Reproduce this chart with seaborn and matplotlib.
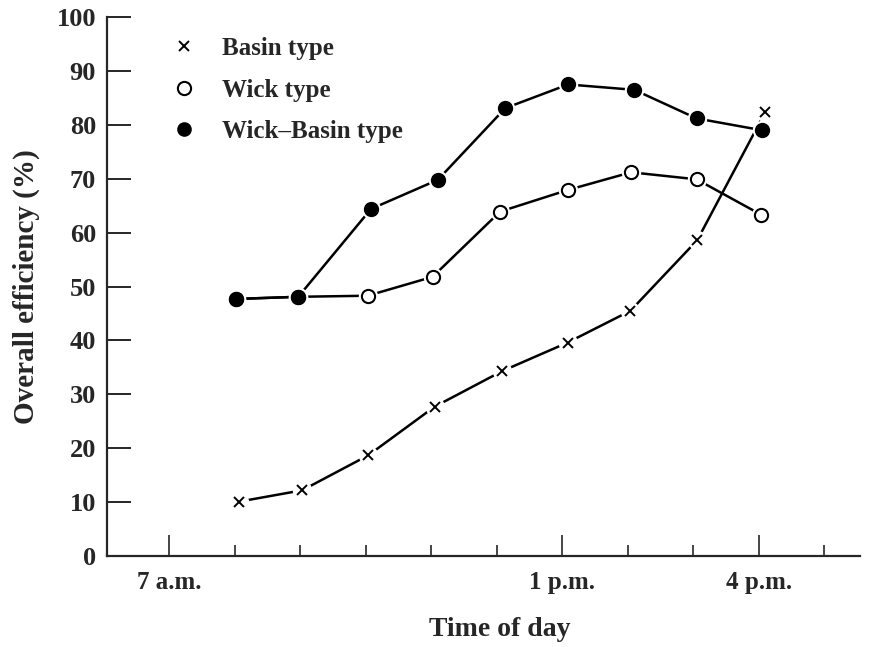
import pandas as pd
import seaborn as sns
import matplotlib.pyplot as plt
from matplotlib.lines import Line2D
from matplotlib.ticker import MultipleLocator

# Time of day in hours (24 h clock) and overall efficiency (%)
basin_time = [8.07, 9.03, 10.04, 11.05, 12.08, 13.08, 14.04, 15.06, 16.1]
basin_eff = [10.1, 12.2, 18.7, 27.7, 34.3, 39.6, 45.5, 58.6, 82.4]

wick_time = [8.02, 8.97, 10.03, 11.02, 12.05, 13.08, 14.05, 15.05, 16.04]
wick_eff = [47.7, 48.1, 48.3, 51.8, 63.9, 67.9, 71.2, 69.9, 63.3]

wb_time = [8.02, 8.97, 10.08, 11.1, 12.13, 13.09, 14.1, 15.05, 16.05]
wb_eff = [47.7, 48.1, 64.4, 69.8, 83.1, 87.5, 86.5, 81.2, 79.0]

major_ticks = [7, 13, 16]
major_labels = ["7 a.m.", "1 p.m.", "4 p.m."]
y_ticks = [0, 10, 20, 30, 40, 50, 60, 70, 80, 90, 100]

sns.set_style("ticks")
plt.rcParams['font.family'] = ['Liberation Serif', 'DejaVu Serif']
plt.rcParams['font.weight'] = 'bold'

fig = plt.figure(figsize=(8.77, 6.47), dpi=100)
ax = fig.add_axes([0.122, 0.1406, 0.859, 0.833])

series = [
    (wick_time, wick_eff, "o", "white"),
    (wb_time, wb_eff, "o", "black"),
    (basin_time, basin_eff, "x", "black"),
]

# lines first, then a white halo so the line stops short of each marker
for t, e, m, fc in series:
    sns.lineplot(x=t, y=e, color="black", linewidth=1.8, estimator=None, sort=False, ax=ax, zorder=2)
for t, e, m, fc in series:
    ax.plot(t, e, ls="none", marker="o", ms=13, mfc="white", mec="white", zorder=3)
for t, e, m, fc in series:
    if m == "x":
        ax.plot(t, e, ls="none", marker="x", ms=7, mew=1.4, color="black", zorder=4)
    else:
        ax.plot(t, e, ls="none", marker="o", ms=9.5, mfc=fc, mec="black", mew=1.5, zorder=4)

ax.set_xlim(6.05, 17.55)
ax.set_ylim(0, 100)
ax.set_xticks(major_ticks)
ax.set_xticklabels(major_labels)
ax.xaxis.set_minor_locator(MultipleLocator(1))
ax.set_yticks(y_ticks)

ax.tick_params(axis="y", direction="in", length=17, width=1.4, labelsize=19, pad=8)
ax.tick_params(axis="x", which="major", direction="in", length=15, width=1.2, labelsize=18, pad=11)
ax.tick_params(axis="x", which="minor", direction="in", length=8, width=1.2)
sns.despine(ax=ax)
for s in ["left", "bottom"]:
    ax.spines[s].set_linewidth(1.6)

ax.set_xlabel("Time of day", fontsize=20, fontweight="bold")
ax.xaxis.set_label_coords(0.522, -0.113)
ax.set_ylabel("Overall efficiency (%)", fontsize=21, fontweight="bold", labelpad=12)

handles = [
    Line2D([], [], ls="none", marker="x", ms=7, mew=1.4, color="black"),
    Line2D([], [], ls="none", marker="o", ms=9.5, mfc="white", mec="black", mew=1.5),
    Line2D([], [], ls="none", marker="o", ms=9.5, mfc="black", mec="black"),
]
labels = ["Basin type", "Wick type", "Wick\u2013Basin type"]
ax.legend(handles, labels, loc="upper left", bbox_to_anchor=(0.085, 0.963), frameon=False,
          fontsize=18, labelspacing=0.74, handletextpad=1.05, handlelength=1.0,
          borderpad=0, borderaxespad=0)

plt.savefig("out.png", dpi=100)
